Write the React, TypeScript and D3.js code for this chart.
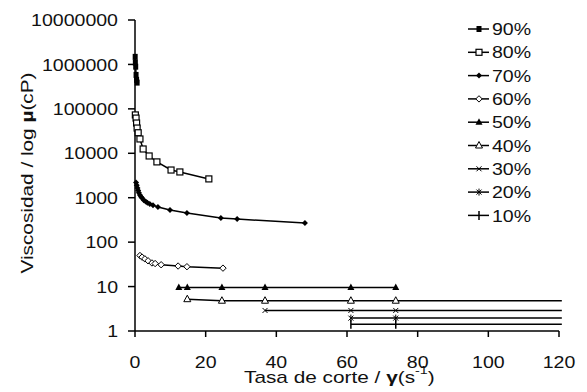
import React from "react";
import * as d3 from "d3";

const seriesLabels = ["90%", "80%", "70%", "60%", "50%", "40%", "30%", "20%", "10%"];
const markerTypes = ["fsq", "osq", "fdia", "odia", "ftri", "otri", "cross", "star", "vbar"];

const x90 = [0.05, 0.1, 0.2, 0.3, 0.45, 0.6];
const y90 = [1480000, 1100000, 890000, 580000, 450000, 390000];
const x80 = [0.1, 0.3, 0.45, 0.6, 0.9, 1.4, 2.3, 4.0, 6.2, 10.2, 12.7, 20.9];
const y80 = [73000, 62000, 48000, 37000, 29000, 21000, 12500, 8700, 6400, 4200, 3800, 2650];
const x70 = [0.3, 0.5, 0.7, 0.9, 1.1, 1.4, 1.7, 2.0, 2.5, 3.0, 3.5, 4.2, 5.1, 6.5, 9.9, 14.7, 24.3, 28.9, 48.1];
const y70 = [2200, 1900, 1650, 1450, 1300, 1150, 1050, 980, 880, 820, 770, 720, 680, 620, 530, 455, 350, 330, 270];
const x60 = [1.4, 2.0, 2.8, 3.7, 4.8, 5.7, 7.4, 12.2, 14.7, 24.9];
const y60 = [50, 46, 42, 38, 34, 33, 31, 29, 28, 26];
const x50 = [12.4, 14.8, 24.6, 36.8, 61.1, 73.8];
const y50 = [9.5, 9.5, 9.5, 9.5, 9.5, 9.5];
const x40 = [14.8, 24.6, 36.8, 61.1, 73.8];
const y40 = [5.2, 4.8, 4.8, 4.8, 4.8];
const x30 = [36.8, 61.1, 73.8];
const y30 = [2.9, 2.9, 2.9];
const x20 = [61.1, 73.8];
const y20 = [1.95, 1.95];
const x10 = [61.1, 73.8];
const y10 = [1.42, 1.42];
// the last four curves carry on flat up to this shear rate
const lineEnds = [null, null, null, null, null, 120.8, 120.8, 120.8, 120.8];

const xTicks = [0, 20, 40, 60, 80, 100, 120];
const yTicks = [1, 10, 100, 1000, 10000, 100000, 1000000, 10000000];

const allX = [x90, x80, x70, x60, x50, x40, x30, x20, x10];
const allY = [y90, y80, y70, y60, y50, y40, y30, y20, y10];

const FONT = "'Liberation Sans', Arial, sans-serif";

function Marker({ type, cx, cy }: { type: string; cx: number; cy: number }) {
  const s = "#000";
  switch (type) {
    case "fsq":
      return <rect x={cx - 2.5} y={cy - 3} width={5} height={6} fill={s} />;
    case "osq":
      return <rect x={cx - 3} y={cy - 3} width={6} height={6} fill="#fff" stroke={s} strokeWidth={1.2} />;
    case "fdia":
      return <path d={`M${cx},${cy - 3}L${cx + 3},${cy}L${cx},${cy + 3}L${cx - 3},${cy}Z`} fill={s} />;
    case "odia":
      return <path d={`M${cx},${cy - 3.2}L${cx + 3.2},${cy}L${cx},${cy + 3.2}L${cx - 3.2},${cy}Z`} fill="#fff" stroke={s} strokeWidth={1} />;
    case "ftri":
      return <path d={`M${cx},${cy - 4}L${cx + 3.5},${cy + 2.5}L${cx - 3.5},${cy + 2.5}Z`} fill={s} />;
    case "otri":
      return <path d={`M${cx},${cy - 4}L${cx + 3.5},${cy + 2.5}L${cx - 3.5},${cy + 2.5}Z`} fill="#fff" stroke={s} strokeWidth={1} />;
    case "cross":
      return <path d={`M${cx - 2.5},${cy - 2.5}L${cx + 2.5},${cy + 2.5}M${cx - 2.5},${cy + 2.5}L${cx + 2.5},${cy - 2.5}`} stroke={s} strokeWidth={1} />;
    case "star":
      return <path d={`M${cx - 2.5},${cy - 2.5}L${cx + 2.5},${cy + 2.5}M${cx - 2.5},${cy + 2.5}L${cx + 2.5},${cy - 2.5}M${cx},${cy - 3.5}L${cx},${cy + 3.5}`} stroke={s} strokeWidth={1} />;
    case "vbar":
      return <path d={`M${cx},${cy - 4.5}L${cx},${cy + 4.5}`} stroke={s} strokeWidth={1.5} />;
    default:
      return null;
  }
}

function SText({ x, y, sx, anchor, children, size = 17, rotate = 0, dy }: any) {
  return (
    <text
      transform={`translate(${x},${y}) rotate(${rotate}) scale(${sx},1)`}
      textAnchor={anchor}
      fontFamily={FONT}
      fontSize={size}
      fill="#111"
      dy={dy}
    >
      {children}
    </text>
  );
}

export default function App() {
  const W = 587;
  const H = 392;
  const x = d3.scaleLinear().domain([0, 120]).range([135, 559]);
  const y = d3.scaleLog().domain([1, 1e7]).range([331, 20]);
  const line = d3
    .line<[number, number]>()
    .x((d) => x(d[0]))
    .y((d) => y(d[1]));

  const legendX0 = 468;
  const legendY0 = 29;
  const legendDy = 23.3;

  return (
    <svg width={W} height={H} style={{ display: "block", position: "absolute", left: 0, top: 0, background: "#fff" }}>
      <rect width={W} height={H} fill="#fff" />
      {/* axes */}
      <line x1={x(0)} x2={x(0)} y1={y(1e7)} y2={y(1)} stroke="#000" strokeWidth={1.5} />
      <line x1={x(0)} x2={x(120)} y1={y(1)} y2={y(1)} stroke="#000" strokeWidth={1.5} />
      {yTicks.map((t) => (
        <g key={"y" + t}>
          <line x1={x(0) - 7} x2={x(0)} y1={y(t)} y2={y(t)} stroke="#000" strokeWidth={1.5} />
          <SText x={118} y={y(t)} sx={1.15} anchor="end" dy="0.36em">
            {String(t)}
          </SText>
        </g>
      ))}
      {xTicks.map((t) => (
        <g key={"x" + t}>
          <line x1={x(t)} x2={x(t)} y1={y(1)} y2={y(1) + 6} stroke="#000" strokeWidth={1.5} />
          <SText x={x(t)} y={368} sx={1.15} anchor="middle">
            {String(t)}
          </SText>
        </g>
      ))}
      {/* axis titles */}
      <SText x={33} y={173} sx={1.3} anchor="middle" rotate={-90} size={16}>
        Viscosidad / log <tspan fontWeight="bold">µ</tspan>(cP)
      </SText>
      <SText x={244} y={383} sx={1.3} anchor="start" size={16}>
        Tasa de corte / <tspan fontWeight="bold">γ</tspan>(s
        <tspan fontSize={11} dy={-9}>-1</tspan>
        <tspan dy={9}>)</tspan>
      </SText>
      {/* series */}
      {allX.map((xs, i) => {
        const pts: [number, number][] = xs.map((v, j) => [v, allY[i][j]]);
        const end = lineEnds[i];
        const linePts = end != null ? [...pts, [end, allY[i][allY[i].length - 1]] as [number, number]] : pts;
        return (
          <g key={seriesLabels[i]}>
            <path d={line(linePts) || ""} fill="none" stroke="#000" strokeWidth={1.5} />
            {pts.map((p, j) => (
              <Marker key={j} type={markerTypes[i]} cx={x(p[0])} cy={y(p[1])} />
            ))}
          </g>
        );
      })}
      {/* legend */}
      {seriesLabels.map((lab, i) => {
        const ly = legendY0 + i * legendDy;
        return (
          <g key={"lg" + lab}>
            <line x1={legendX0} x2={legendX0 + 21} y1={ly} y2={ly} stroke="#000" strokeWidth={1.5} />
            <Marker type={markerTypes[i]} cx={legendX0 + 11} cy={ly} />
            <SText x={legendX0 + 24} y={ly} sx={1.15} anchor="start" dy="0.36em">
              {lab}
            </SText>
          </g>
        );
      })}
    </svg>
  );
}
